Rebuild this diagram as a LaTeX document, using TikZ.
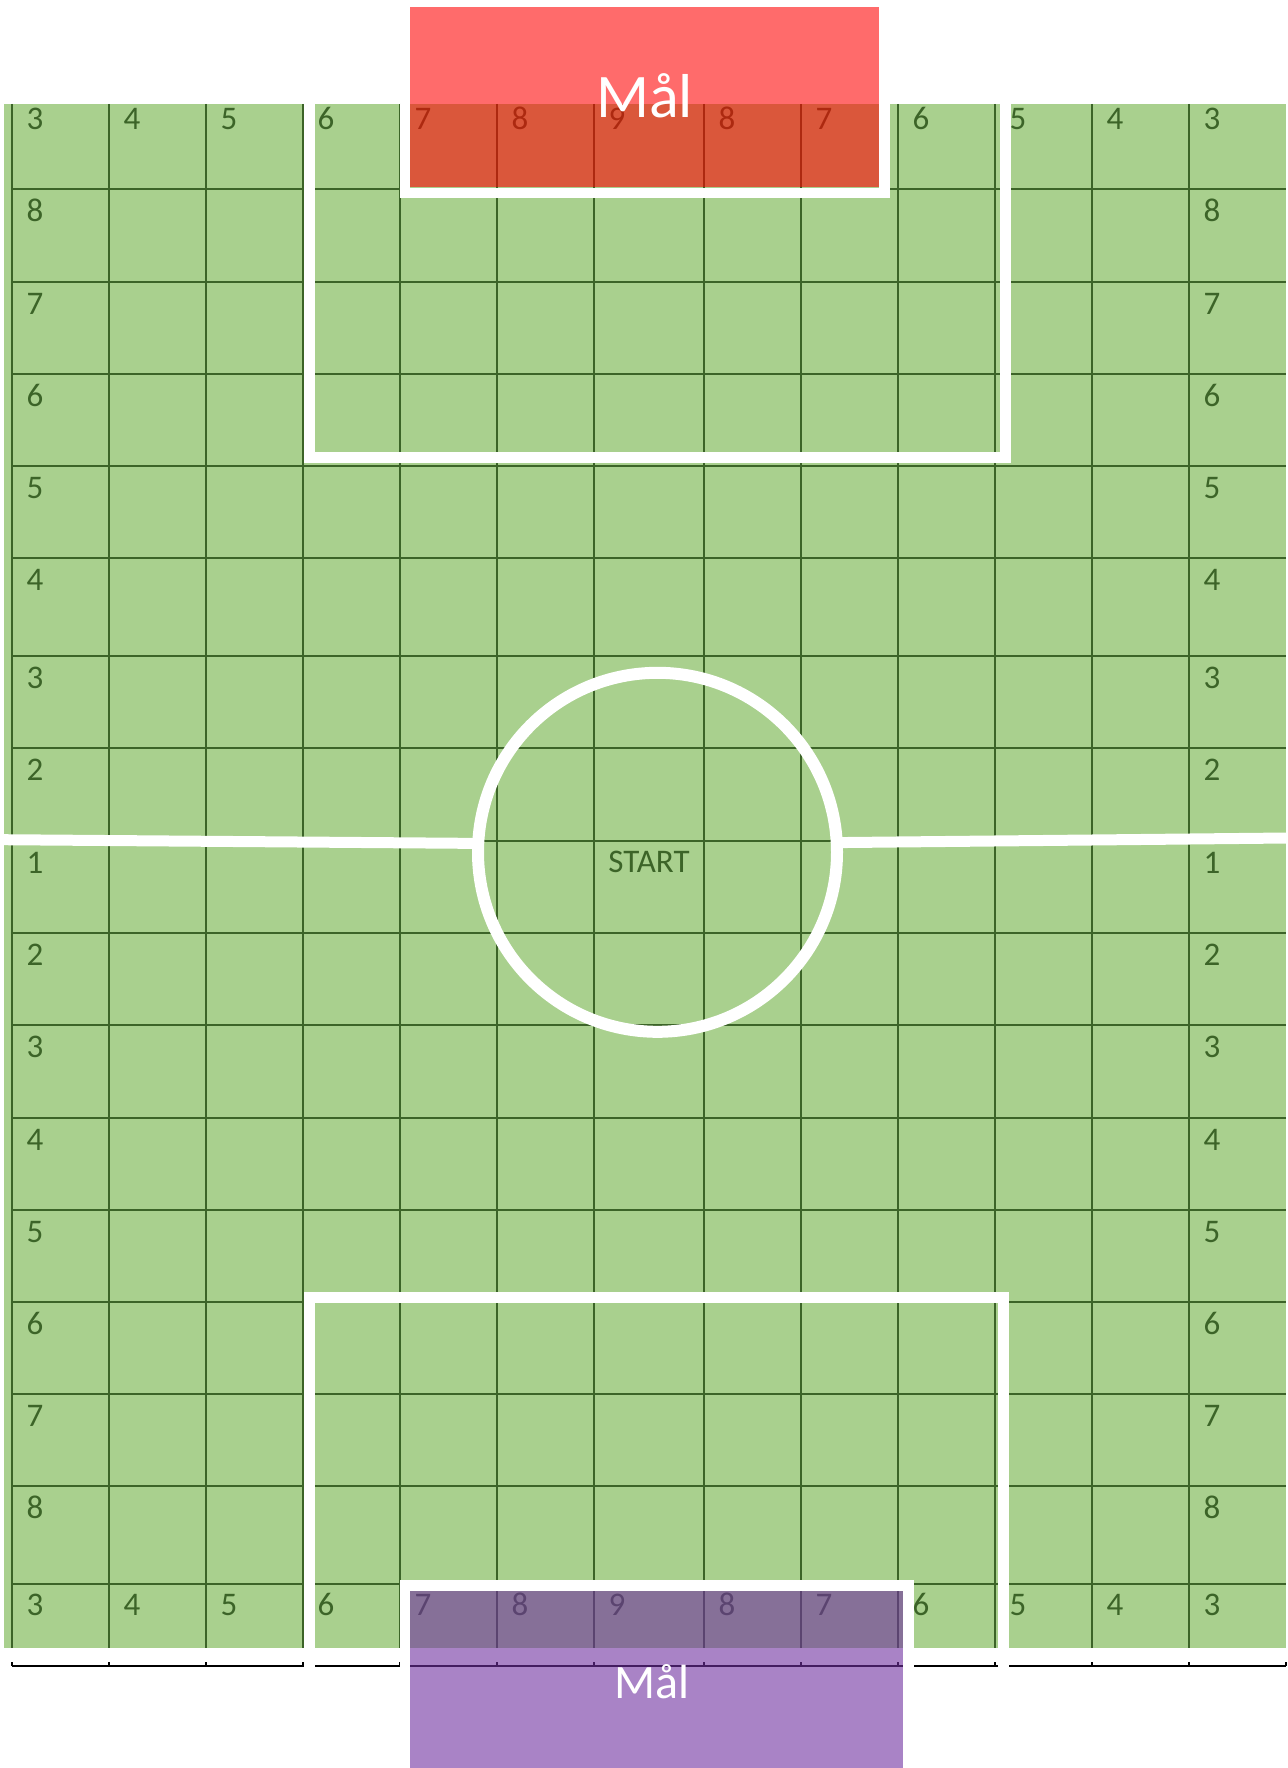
\documentclass[tikz,border=0pt]{standalone}
\usepackage{fontspec}
\setmainfont{Carlito}
\definecolor{pitch}{HTML}{A9D08E}
\definecolor{gridc}{HTML}{3C6428}
\definecolor{goalpurple}{HTML}{7030A0}
\begin{document}
\begin{tikzpicture}[x=1pt,y=-1pt,
  gridline/.style={draw=gridc,line width=2pt},
  whiteline/.style={draw=white,line width=11pt,line join=miter},
  goalline/.style={draw=white,line width=10.5pt,line join=miter},
  lbl/.style={anchor=base west,inner sep=0pt,text=gridc,font=\fontsize{33}{36}\selectfont},
  goaltext/.style={text=white,inner sep=0pt,anchor=base}]
\useasboundingbox (0,0) rectangle (1287,1768);
% pitch
\fill[pitch] (4,104) rectangle (1286,1647.5);
% grid
\foreach \x in {12,109,206,303,400,497,594,704,801,898,995,1092,1189}
  \draw[gridline] (\x,104) -- (\x,1647.5);
\foreach \y in {189.5,281.75,373.75,465.75,557.5,656,747.5,840.5,932.75,1025,1117.5,1209.5,1301.75,1394,1486,1583.5}
  \draw[gridline] (12,\y) -- (1286,\y);
% row labels top and bottom
\foreach \x/\lab [count=\i] in {12/3,109/4,206/5,303/6,400/7,497/8,594/9,704/8,801/7,898/6,995/5,1092/4,1189/3} {
  \node[lbl] (top\i) at (\x+14.5,129.5) {\lab};
  \node[lbl] (bot\i) at (\x+14.5,1615.5) {\lab};
}
% side labels
\foreach \y/\lab [count=\i] in {189.5/8,281.75/7,373.75/6,465.75/5,557.5/4,656/3,747.5/2,840.5/1,932.75/2,1025/3,1117.5/4,1209.5/5,1301.75/6,1394/7,1486/8} {
  \node[lbl] (left\i) at (26.5,\y+32.5) {\lab};
  \node[lbl] (right\i) at (1203.5,\y+32.5) {\lab};
}
\node[lbl,anchor=base] (start) at (649,872) {START};
% baseline with ticks
\draw[black,line width=1.8pt] (12,1666) -- (1286,1666);
\foreach \x in {12,109,206,303,400,497,594,704,801,898,995,1092,1189,1286}
  \draw[black,line width=1.2pt] (\x,1662) -- (\x,1666);
% white markings
\draw[whiteline] (3,839.7) -- (478,843.4);
\draw[whiteline] (837,842.6) -- (1287,838);
\draw[draw=white,line width=12pt] (657.5,852.3) circle[radius=179.5];
\draw[whiteline] (309.5,104) -- (309.5,457) -- (1005.5,457) -- (1005.5,104);
\draw[goalline] (405,104) -- (405,193) -- (884.7,193) -- (884.7,104);
\draw[whiteline] (309.5,1670) -- (309.5,1297.8) -- (1003.5,1297.8) -- (1003.5,1670);
\draw[goalline] (405,1670) -- (405,1585.5) -- (908.5,1585.5) -- (908.5,1670);
% goals
\fill[red,opacity=0.58] (410,7.5) rectangle (879.3,187.5);
\fill[goalpurple,opacity=0.6] (410,1591) rectangle (903,1768);
\node[goaltext,font=\fontsize{62}{70}\selectfont] (maltop) at (644.6,118) {Mål};
\node[goaltext,font=\fontsize{48}{54}\selectfont] (malbot) at (652,1698) {Mål};
\end{tikzpicture}
\end{document}
